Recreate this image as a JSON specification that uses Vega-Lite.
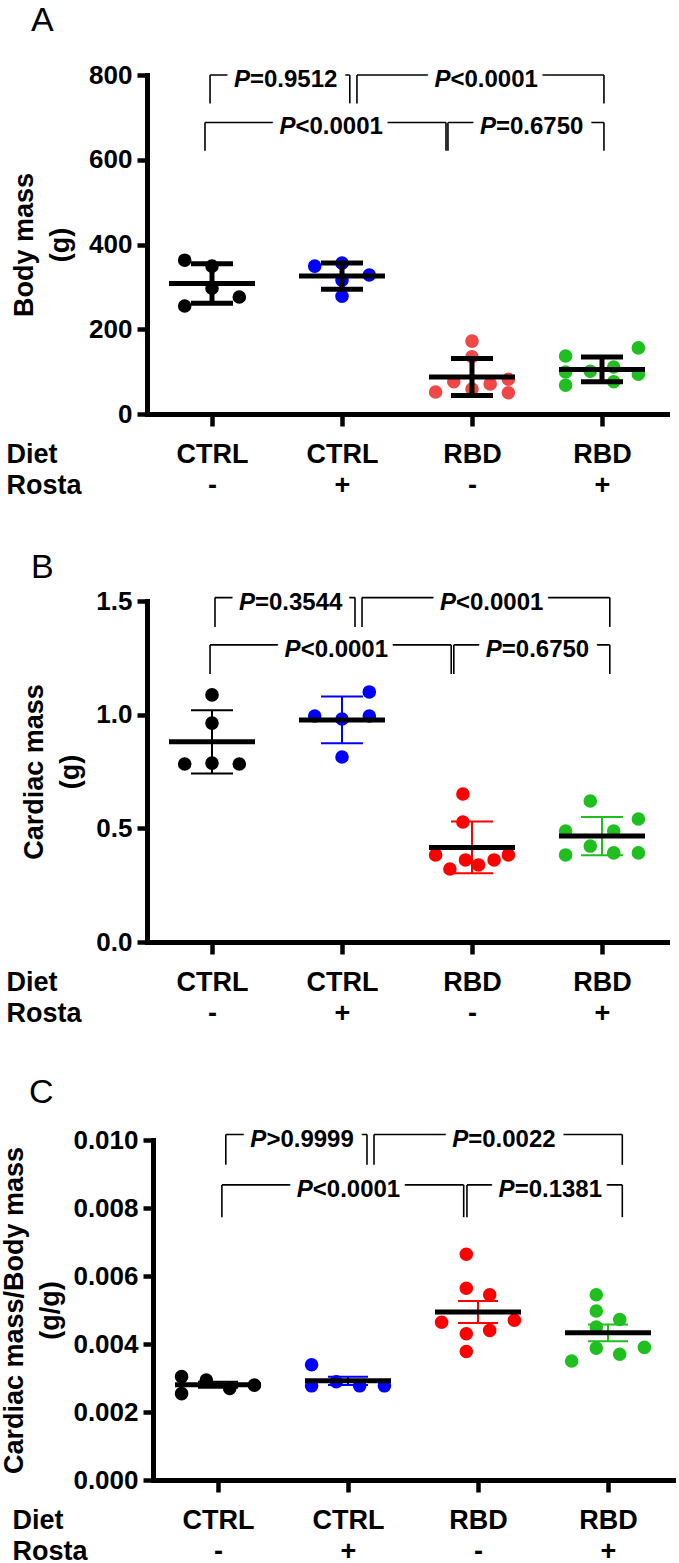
{
  "$schema": "https://vega.github.io/schema/vega-lite/v6.json",
  "background": "white",
  "padding": {"left": 0, "top": 4, "right": 5, "bottom": 3},
  "config": {
    "font": "Liberation Sans",
    "view": {"stroke": null},
    "title": {"anchor": "start", "frame": "group", "fontSize": 34, "fontWeight": "normal", "color": "#000000", "baseline": "alphabetic", "font": "Liberation Sans"},
    "axis": {"grid": false, "domainColor": "#000000", "domainWidth": 5, "domainCap": "square", "tickColor": "#000000", "tickWidth": 4.5, "labelColor": "#000000", "labelFont": "Liberation Sans", "labelFontWeight": "bold", "titleColor": "#000000", "titleFont": "Liberation Sans", "titleFontWeight": "bold"},
    "axisY": {"tickSize": 10, "labelFontSize": 26, "labelPadding": 5, "titleFontSize": 27, "titleLineHeight": 36, "titlePadding": 8},
    "axisX": {"tickSize": 12, "labelFontSize": 27, "labelPadding": 15, "labelLineHeight": 31, "labelFlush": false, "labelOverlap": false, "titleFontSize": 27, "titleLineHeight": 31}
  },
  "datasets": {
    "dotsA": [
      {"g": 1, "x": 0.79, "v": 363}, {"g": 1, "x": 1.0, "v": 349}, {"g": 1, "x": 1.0, "v": 297}, {"g": 1, "x": 1.21, "v": 276}, {"g": 1, "x": 0.79, "v": 255},
      {"g": 2, "x": 1.79, "v": 349}, {"g": 2, "x": 2.0, "v": 356}, {"g": 2, "x": 2.21, "v": 328}, {"g": 2, "x": 2.0, "v": 316}, {"g": 2, "x": 2.0, "v": 278},
      {"g": 3, "x": 3.0, "v": 172}, {"g": 3, "x": 3.0, "v": 135}, {"g": 3, "x": 2.86, "v": 76}, {"g": 3, "x": 3.14, "v": 71}, {"g": 3, "x": 3.28, "v": 82}, {"g": 3, "x": 2.72, "v": 52}, {"g": 3, "x": 3.0, "v": 59}, {"g": 3, "x": 3.28, "v": 50},
      {"g": 4, "x": 3.72, "v": 137}, {"g": 4, "x": 4.28, "v": 156}, {"g": 4, "x": 3.72, "v": 99}, {"g": 4, "x": 3.91, "v": 101}, {"g": 4, "x": 4.09, "v": 111}, {"g": 4, "x": 4.28, "v": 94}, {"g": 4, "x": 4.09, "v": 76}, {"g": 4, "x": 3.72, "v": 68}
    ],
    "dotsB": [
      {"g": 1, "x": 1.0, "v": 1.087}, {"g": 1, "x": 1.0, "v": 0.963}, {"g": 1, "x": 0.79, "v": 0.783}, {"g": 1, "x": 1.0, "v": 0.787}, {"g": 1, "x": 1.21, "v": 0.783},
      {"g": 2, "x": 2.21, "v": 1.10}, {"g": 2, "x": 1.79, "v": 0.994}, {"g": 2, "x": 2.0, "v": 0.981}, {"g": 2, "x": 2.21, "v": 0.994}, {"g": 2, "x": 2.0, "v": 0.814},
      {"g": 3, "x": 2.72, "v": 0.383}, {"g": 3, "x": 2.83, "v": 0.321}, {"g": 3, "x": 2.95, "v": 0.361}, {"g": 3, "x": 3.05, "v": 0.339}, {"g": 3, "x": 3.17, "v": 0.361}, {"g": 3, "x": 3.28, "v": 0.383}, {"g": 3, "x": 2.93, "v": 0.651}, {"g": 3, "x": 2.93, "v": 0.528},
      {"g": 4, "x": 3.72, "v": 0.383}, {"g": 4, "x": 3.91, "v": 0.422}, {"g": 4, "x": 4.09, "v": 0.392}, {"g": 4, "x": 4.28, "v": 0.392}, {"g": 4, "x": 3.91, "v": 0.620}, {"g": 4, "x": 4.28, "v": 0.541}, {"g": 4, "x": 3.72, "v": 0.488}, {"g": 4, "x": 4.09, "v": 0.488}
    ],
    "dotsC": [
      {"g": 1, "x": 0.72, "v": 0.00304}, {"g": 1, "x": 0.72, "v": 0.00254}, {"g": 1, "x": 0.91, "v": 0.00294}, {"g": 1, "x": 1.09, "v": 0.00269}, {"g": 1, "x": 1.28, "v": 0.00279},
      {"g": 2, "x": 1.72, "v": 0.00339}, {"g": 2, "x": 1.72, "v": 0.00277}, {"g": 2, "x": 1.91, "v": 0.00289}, {"g": 2, "x": 2.09, "v": 0.00277}, {"g": 2, "x": 2.28, "v": 0.00277},
      {"g": 3, "x": 2.91, "v": 0.00664}, {"g": 3, "x": 2.91, "v": 0.00564}, {"g": 3, "x": 3.09, "v": 0.00545}, {"g": 3, "x": 2.72, "v": 0.00464}, {"g": 3, "x": 3.28, "v": 0.00470}, {"g": 3, "x": 2.91, "v": 0.00430}, {"g": 3, "x": 3.09, "v": 0.00440}, {"g": 3, "x": 2.91, "v": 0.00378},
      {"g": 4, "x": 3.91, "v": 0.00545}, {"g": 4, "x": 3.91, "v": 0.00497}, {"g": 4, "x": 4.09, "v": 0.00472}, {"g": 4, "x": 3.91, "v": 0.00450}, {"g": 4, "x": 3.72, "v": 0.00350}, {"g": 4, "x": 3.91, "v": 0.00388}, {"g": 4, "x": 4.09, "v": 0.00370}, {"g": 4, "x": 4.28, "v": 0.00390}
    ],
    "bracketsA": [
      {"x1": 0.985, "x2": 2.06, "y": 800, "ylow": 733, "stat": "=0.9512"},
      {"x1": 2.115, "x2": 4.015, "y": 800, "ylow": 733, "stat": "<0.0001"},
      {"x1": 0.946, "x2": 2.80, "y": 688, "ylow": 621, "stat": "<0.0001"},
      {"x1": 2.815, "x2": 4.015, "y": 688, "ylow": 621, "stat": "=0.6750"}
    ],
    "bracketsB": [
      {"x1": 1.023, "x2": 2.10, "y": 1.515, "ylow": 1.386, "stat": "=0.3544"},
      {"x1": 2.154, "x2": 4.06, "y": 1.515, "ylow": 1.386, "stat": "<0.0001"},
      {"x1": 0.985, "x2": 2.84, "y": 1.307, "ylow": 1.179, "stat": "<0.0001"},
      {"x1": 2.86, "x2": 4.06, "y": 1.307, "ylow": 1.179, "stat": "=0.6750"}
    ],
    "bracketsC": [
      {"x1": 1.06, "x2": 2.146, "y": 0.01016, "ylow": 0.00927, "stat": ">0.9999"},
      {"x1": 2.20, "x2": 4.11, "y": 0.01016, "ylow": 0.00927, "stat": "=0.0022"},
      {"x1": 1.03, "x2": 2.89, "y": 0.00868, "ylow": 0.00773, "stat": "<0.0001"},
      {"x1": 2.915, "x2": 4.11, "y": 0.00868, "ylow": 0.00773, "stat": "=0.1381"}
    ]
  },
  "bounds": "flush",
  "spacing": 187,
  "resolve": {"scale": {"x": "independent", "y": "independent", "color": "independent"}},
  "vconcat": [
    {
      "title": {"text": "A", "dx": -116, "offset": 24},
      "width": 520,
      "height": 339,
      "layer": [
        {
          "data": {"name": "dotsA"},
          "mark": {"type": "circle", "size": 185, "opacity": 1},
          "encoding": {
            "x": {"field": "x", "type": "quantitative", "scale": {"domain": [0.5, 4.5], "nice": false, "zero": false},
              "axis": {"values": [1, 2, 3, 4], "labelExpr": "datum.value == 1 ? ['CTRL', '-'] : datum.value == 2 ? ['CTRL', '+'] : datum.value == 3 ? ['RBD', '-'] : ['RBD', '+']", "title": ["Diet", "Rosta"], "titleX": -141, "titleY": 27, "titleAlign": "left", "titleBaseline": "top"}},
            "y": {"field": "v", "type": "quantitative", "scale": {"domain": [0, 800], "nice": false},
              "axis": {"values": [0, 200, 400, 600, 800], "format": "d", "title": ["Body mass", "(g)"], "titlePadding": 14}},
            "color": {"field": "g", "type": "nominal", "scale": {"domain": [1, 2, 3, 4], "range": ["#000000", "#0000ff", "#f04848", "#1fbf1f"]}, "legend": null}
          }
        },
        {
          "data": {"name": "bracketsA"},
          "mark": {"type": "rule", "color": "#000000", "strokeWidth": 1.6},
          "encoding": {
            "x": {"field": "x1", "type": "quantitative"},
            "x2": {"field": "x2"},
            "y": {"field": "y", "type": "quantitative"}
          }
        },
        {
          "data": {"name": "bracketsA"},
          "transform": [{"fold": ["x1", "x2"], "as": ["side", "xe"]}],
          "mark": {"type": "rule", "color": "#000000", "strokeWidth": 1.6},
          "encoding": {
            "x": {"field": "xe", "type": "quantitative"},
            "y": {"field": "ylow", "type": "quantitative"},
            "y2": {"field": "y"}
          }
        },
        {
          "data": {"name": "bracketsA"},
          "transform": [
            {"fold": ["x1", "x2"], "as": ["side", "xe"]},
            {"aggregate": [{"op": "mean", "field": "xe", "as": "xm"}], "groupby": ["y", "stat"]}
          ],
          "encoding": {
            "x": {"field": "xm", "type": "quantitative"},
            "y": {"field": "y", "type": "quantitative"}
          },
          "layer": [
            {"mark": {"type": "text", "text": "P", "align": "right", "baseline": "alphabetic", "dx": -30, "dy": 12, "fontSize": 24, "fontWeight": "bold", "fontStyle": "italic", "color": "#ffffff", "stroke": "#ffffff", "strokeWidth": 18, "strokeJoin": "round"}},
            {"mark": {"type": "text", "align": "left", "baseline": "alphabetic", "dx": -30, "dy": 12, "fontSize": 24, "fontWeight": "bold", "color": "#ffffff", "stroke": "#ffffff", "strokeWidth": 18, "strokeJoin": "round"}, "encoding": {"text": {"field": "stat"}}},
            {"mark": {"type": "text", "text": "P", "align": "right", "baseline": "alphabetic", "dx": -30, "dy": 12, "fontSize": 24, "fontWeight": "bold", "fontStyle": "italic", "color": "#000000"}},
            {"mark": {"type": "text", "align": "left", "baseline": "alphabetic", "dx": -30, "dy": 12, "fontSize": 24, "fontWeight": "bold", "color": "#000000"}, "encoding": {"text": {"field": "stat"}}}
          ]
        },
        {
          "data": {"name": "dotsA"},
          "mark": {"type": "errorbar", "extent": "stdev", "ticks": {"size": 42, "thickness": 5, "opacity": 1}, "rule": {"opacity": 1}, "size": 42, "thickness": 5, "color": "#000000", "opacity": 1},
          "encoding": {
            "x": {"field": "g", "type": "quantitative"},
            "y": {"field": "v", "type": "quantitative", "title": ["Body mass", "(g)"]}
          }
        },
        {
          "data": {"name": "dotsA"},
          "mark": {"type": "tick", "orient": "horizontal", "size": 86, "thickness": 5, "color": "#000000", "opacity": 1},
          "encoding": {
            "x": {"field": "g", "type": "quantitative"},
            "y": {"aggregate": "mean", "field": "v", "type": "quantitative"}
          }
        }
      ]
    },
    {
      "bounds": "flush",
      "spacing": 198,
      "resolve": {"scale": {"x": "independent", "y": "independent", "color": "independent"}},
      "vconcat": [
        {
          "title": {"text": "B", "dx": -116, "offset": 3},
          "width": 520,
          "height": 341,
          "layer": [
            {
              "data": {"name": "dotsB"},
              "mark": {"type": "circle", "size": 185, "opacity": 1},
              "encoding": {
                "x": {"field": "x", "type": "quantitative", "scale": {"domain": [0.5, 4.5], "nice": false, "zero": false},
                  "axis": {"values": [1, 2, 3, 4], "labelExpr": "datum.value == 1 ? ['CTRL', '-'] : datum.value == 2 ? ['CTRL', '+'] : datum.value == 3 ? ['RBD', '-'] : ['RBD', '+']", "title": ["Diet", "Rosta"], "titleX": -141, "titleY": 27, "titleAlign": "left", "titleBaseline": "top"}},
                "y": {"field": "v", "type": "quantitative", "scale": {"domain": [0, 1.5], "nice": false},
                  "axis": {"values": [0, 0.5, 1.0, 1.5], "format": ".1f", "title": ["Cardiac mass", "(g)"], "titlePadding": 11}},
                "color": {"field": "g", "type": "nominal", "scale": {"domain": [1, 2, 3, 4], "range": ["#000000", "#0000ff", "#ff0000", "#1fbf1f"]}, "legend": null}
              }
            },
            {
              "data": {"name": "bracketsB"},
              "mark": {"type": "rule", "color": "#000000", "strokeWidth": 1.6},
              "encoding": {
                "x": {"field": "x1", "type": "quantitative"},
                "x2": {"field": "x2"},
                "y": {"field": "y", "type": "quantitative"}
              }
            },
            {
              "data": {"name": "bracketsB"},
              "transform": [{"fold": ["x1", "x2"], "as": ["side", "xe"]}],
              "mark": {"type": "rule", "color": "#000000", "strokeWidth": 1.6},
              "encoding": {
                "x": {"field": "xe", "type": "quantitative"},
                "y": {"field": "ylow", "type": "quantitative"},
                "y2": {"field": "y"}
              }
            },
            {
              "data": {"name": "bracketsB"},
              "transform": [
                {"fold": ["x1", "x2"], "as": ["side", "xe"]},
                {"aggregate": [{"op": "mean", "field": "xe", "as": "xm"}], "groupby": ["y", "stat"]}
              ],
              "encoding": {
                "x": {"field": "xm", "type": "quantitative"},
                "y": {"field": "y", "type": "quantitative"}
              },
              "layer": [
                {"mark": {"type": "text", "text": "P", "align": "right", "baseline": "alphabetic", "dx": -30, "dy": 12, "fontSize": 24, "fontWeight": "bold", "fontStyle": "italic", "color": "#ffffff", "stroke": "#ffffff", "strokeWidth": 18, "strokeJoin": "round"}},
                {"mark": {"type": "text", "align": "left", "baseline": "alphabetic", "dx": -30, "dy": 12, "fontSize": 24, "fontWeight": "bold", "color": "#ffffff", "stroke": "#ffffff", "strokeWidth": 18, "strokeJoin": "round"}, "encoding": {"text": {"field": "stat"}}},
                {"mark": {"type": "text", "text": "P", "align": "right", "baseline": "alphabetic", "dx": -30, "dy": 12, "fontSize": 24, "fontWeight": "bold", "fontStyle": "italic", "color": "#000000"}},
                {"mark": {"type": "text", "align": "left", "baseline": "alphabetic", "dx": -30, "dy": 12, "fontSize": 24, "fontWeight": "bold", "color": "#000000"}, "encoding": {"text": {"field": "stat"}}}
              ]
            },
            {
              "data": {"name": "dotsB"},
              "mark": {"type": "errorbar", "extent": "stdev", "ticks": {"size": 42, "thickness": 2, "opacity": 1}, "rule": {"opacity": 1}, "size": 42, "thickness": 2, "opacity": 1},
              "encoding": {
                "x": {"field": "g", "type": "quantitative"},
                "y": {"field": "v", "type": "quantitative", "title": ["Cardiac mass", "(g)"]},
                "color": {"field": "g", "type": "nominal", "legend": null}
              }
            },
            {
              "data": {"name": "dotsB"},
              "mark": {"type": "tick", "orient": "horizontal", "size": 86, "thickness": 5, "color": "#000000", "opacity": 1},
              "encoding": {
                "x": {"field": "g", "type": "quantitative"},
                "y": {"aggregate": "mean", "field": "v", "type": "quantitative"}
              }
            }
          ]
        },
        {
          "title": {"text": "C", "dx": -118, "offset": 17},
          "width": 526,
          "height": 340,
          "layer": [
            {
              "data": {"name": "dotsC"},
              "mark": {"type": "circle", "size": 185, "opacity": 1},
              "encoding": {
                "x": {"field": "x", "type": "quantitative", "scale": {"domain": [0.5, 4.5], "range": [6, 526], "nice": false, "zero": false},
                  "axis": {"values": [1, 2, 3, 4], "labelExpr": "datum.value == 1 ? ['CTRL', '-'] : datum.value == 2 ? ['CTRL', '+'] : datum.value == 3 ? ['RBD', '-'] : ['RBD', '+']", "title": ["Diet", "Rosta"], "titleX": -135, "titleY": 27, "titleAlign": "left", "titleBaseline": "top"}},
                "y": {"field": "v", "type": "quantitative", "scale": {"domain": [0, 0.01], "nice": false},
                  "axis": {"values": [0, 0.002, 0.004, 0.006, 0.008, 0.01], "format": ".3f", "offset": -6, "title": ["Cardiac mass/Body mass", "(g/g)"], "titlePadding": 8}},
                "color": {"field": "g", "type": "nominal", "scale": {"domain": [1, 2, 3, 4], "range": ["#000000", "#0000ff", "#ff0000", "#1fbf1f"]}, "legend": null}
              }
            },
            {
              "data": {"name": "bracketsC"},
              "mark": {"type": "rule", "color": "#000000", "strokeWidth": 1.6},
              "encoding": {
                "x": {"field": "x1", "type": "quantitative"},
                "x2": {"field": "x2"},
                "y": {"field": "y", "type": "quantitative"}
              }
            },
            {
              "data": {"name": "bracketsC"},
              "transform": [{"fold": ["x1", "x2"], "as": ["side", "xe"]}],
              "mark": {"type": "rule", "color": "#000000", "strokeWidth": 1.6},
              "encoding": {
                "x": {"field": "xe", "type": "quantitative"},
                "y": {"field": "ylow", "type": "quantitative"},
                "y2": {"field": "y"}
              }
            },
            {
              "data": {"name": "bracketsC"},
              "transform": [
                {"fold": ["x1", "x2"], "as": ["side", "xe"]},
                {"aggregate": [{"op": "mean", "field": "xe", "as": "xm"}], "groupby": ["y", "stat"]}
              ],
              "encoding": {
                "x": {"field": "xm", "type": "quantitative"},
                "y": {"field": "y", "type": "quantitative"}
              },
              "layer": [
                {"mark": {"type": "text", "text": "P", "align": "right", "baseline": "alphabetic", "dx": -30, "dy": 12, "fontSize": 24, "fontWeight": "bold", "fontStyle": "italic", "color": "#ffffff", "stroke": "#ffffff", "strokeWidth": 18, "strokeJoin": "round"}},
                {"mark": {"type": "text", "align": "left", "baseline": "alphabetic", "dx": -30, "dy": 12, "fontSize": 24, "fontWeight": "bold", "color": "#ffffff", "stroke": "#ffffff", "strokeWidth": 18, "strokeJoin": "round"}, "encoding": {"text": {"field": "stat"}}},
                {"mark": {"type": "text", "text": "P", "align": "right", "baseline": "alphabetic", "dx": -30, "dy": 12, "fontSize": 24, "fontWeight": "bold", "fontStyle": "italic", "color": "#000000"}},
                {"mark": {"type": "text", "align": "left", "baseline": "alphabetic", "dx": -30, "dy": 12, "fontSize": 24, "fontWeight": "bold", "color": "#000000"}, "encoding": {"text": {"field": "stat"}}}
              ]
            },
            {
              "data": {"name": "dotsC"},
              "mark": {"type": "errorbar", "extent": "stderr", "ticks": {"size": 40, "thickness": 2, "opacity": 1}, "rule": {"opacity": 1}, "size": 40, "thickness": 2, "opacity": 1},
              "encoding": {
                "x": {"field": "g", "type": "quantitative"},
                "y": {"field": "v", "type": "quantitative", "title": ["Cardiac mass/Body mass", "(g/g)"]},
                "color": {"field": "g", "type": "nominal", "legend": null}
              }
            },
            {
              "data": {"name": "dotsC"},
              "mark": {"type": "tick", "orient": "horizontal", "size": 86, "thickness": 5, "color": "#000000", "opacity": 1},
              "encoding": {
                "x": {"field": "g", "type": "quantitative"},
                "y": {"aggregate": "mean", "field": "v", "type": "quantitative"}
              }
            }
          ]
        }
      ]
    }
  ]
}
